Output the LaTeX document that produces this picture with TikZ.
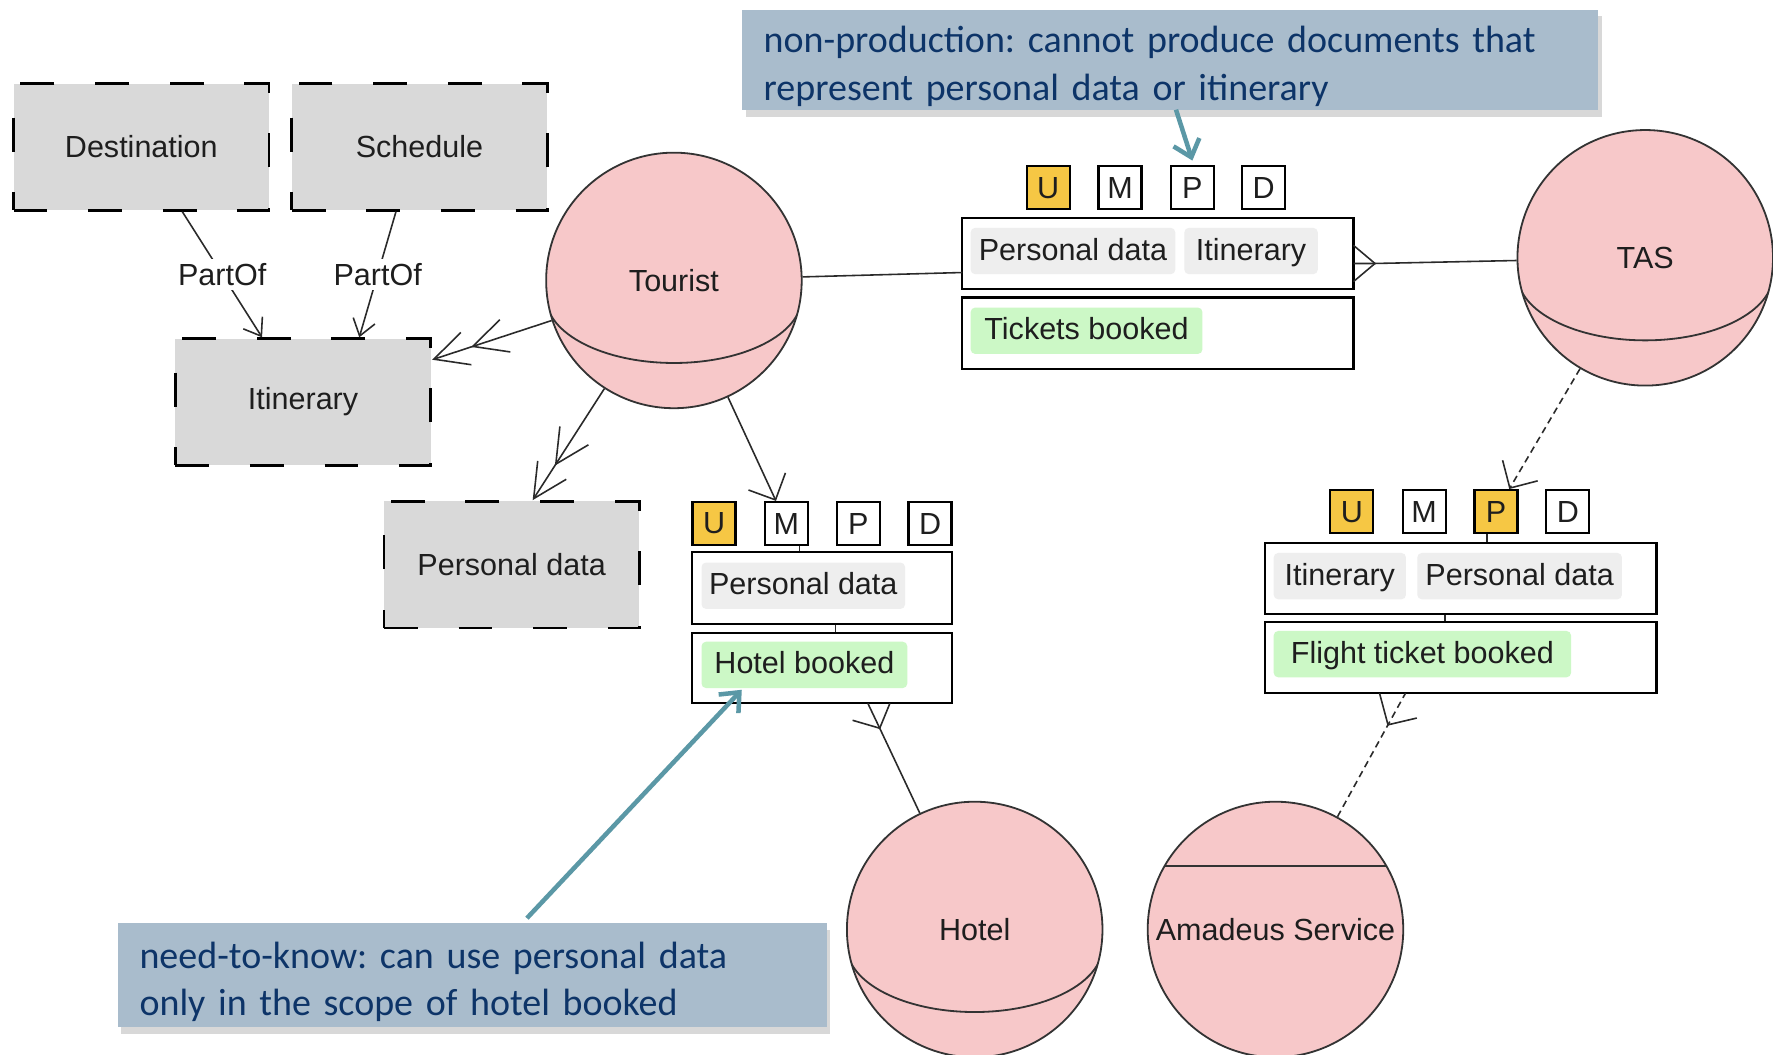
\documentclass[tikz,border=0pt]{standalone}
\usepackage{fontspec}
\setmainfont{Liberation Sans}
\newfontfamily\diafamily{Liberation Sans}
\newfontfamily\calfamily{Carlito}
\newcommand\mydiafont{\diafamily\fontsize{13.5}{16}\selectfont}
\newcommand\mynotefont{\calfamily\fontsize{16.8}{21}\selectfont\frenchspacing\spaceskip=0.17em plus 0.05em\relax}
\newcommand\notestrut{\rule{0pt}{17.5pt}}
\usetikzlibrary{arrows.meta,shadows,calc}
\definecolor{pinkfill}{HTML}{F7C8C9}
\definecolor{boxgray}{HTML}{D9D9D9}
\definecolor{chipgray}{HTML}{EEEEEE}
\definecolor{chipgreen}{HTML}{CCF8C6}
\definecolor{uorange}{HTML}{F6C744}
\definecolor{notefill}{HTML}{A9BCCC}
\definecolor{notetext}{HTML}{0D3468}
\definecolor{arrowteal}{HTML}{5B98A6}
\definecolor{circline}{HTML}{333333}
\definecolor{linegray}{HTML}{2A2A2A}
\definecolor{txt}{HTML}{1E1E1E}
\newcommand\spherearc[1]{%
  \begin{scope}
    \clip (#1.center) circle[radius=56.5pt];
    \clip ($(#1.center)+(-130,15)$) rectangle ++(260,130);
    \draw[circline,line width=0.8pt] ($(#1.center)+(0,15)$) ellipse[x radius=113,y radius=58];
  \end{scope}}
\begin{document}
\begin{tikzpicture}[x=0.5pt,y=-0.5pt,
  dbox/.style={draw=black, line width=1.2pt, dash pattern=on 15pt off 18pt, fill=boxgray,
    minimum width=113pt, minimum height=56pt, inner sep=0pt, font=\mydiafont, text=txt},
  sphere/.style={circle, draw=circline, line width=0.8pt, fill=pinkfill, minimum size=113pt,
    inner sep=0pt, font=\mydiafont, text=txt},
  flag/.style={draw=black, line width=1pt, fill=white, minimum size=19pt, inner sep=0pt,
    font=\mydiafont, text=txt},
  flagon/.style={flag, fill=uorange},
  cbox/.style={draw=black, line width=1pt, fill=white, minimum width=173pt,
    minimum height=31.5pt, inner sep=0pt},
  chip/.style={fill=chipgray, rounded corners=2pt, minimum height=20.5pt, inner sep=0pt,
    text height=10pt, text depth=2pt, anchor=west, font=\mydiafont, text=txt},
  gchip/.style={chip, fill=chipgreen},
  conn/.style={draw=linegray, line width=0.7pt},
  dconn/.style={conn, dash pattern=on 3pt off 2pt},
  openone/.style={-{Straight Barb[length=9pt,width=18pt]}},
  opentwo/.style={-{Straight Barb[length=15pt,width=15pt,sep=2pt] Straight Barb[length=15pt,width=15pt]}},
  partof/.style={-{Straight Barb[length=7pt,width=10pt]}},
  plabel/.style={fill=white, inner sep=2pt, font=\mydiafont, text=txt},
  note/.style={fill=notefill, drop shadow={shadow xshift=1.5pt, shadow yshift=-3pt, opacity=0.3},
    anchor=north west, inner xsep=9.5pt, inner ysep=0pt, align=left, font=\mynotefont, text=notetext},
  callout/.style={draw=arrowteal, line width=2pt, -{Straight Barb[length=7pt,width=12pt]}},
]
\useasboundingbox (0,0) rectangle (1568,933);
\fill[white] (0,0) rectangle (1568,933);

% gray dashed boxes
\node[dbox] (dest) at (125,130) {Destination};
\node[dbox] (sched) at (371,130) {Schedule};
\node[dbox] (itin) at (268,355.5) {Itinerary};
\node[dbox] (pdata) at (452.5,499.5) {Personal data};

% spheres
\node[sphere] (tourist) at (596,248) {Tourist};
\spherearc{tourist}
\node[sphere] (tas) at (1455,228) {TAS};
\spherearc{tas}
\node[sphere] (hotel) at (862,822) {Hotel};
\spherearc{hotel}
\node[sphere] (amadeus) at (1128,822) {Amadeus Service};
\draw[circline,line width=0.8pt] ($(amadeus.center)+(-98,-56)$) -- ($(amadeus.center)+(98,-56)$);

% top component
\node[flagon] (tU) at (927,166) {U};
\node[flag] (tM) at (990.5,166) {M};
\node[flag] (tP) at (1054.5,166) {P};
\node[flag] (tD) at (1117.5,166) {D};
\node[cbox] (tA) at (1024,224) {};
\node[cbox] (tB) at (1024,294.5) {};
\node[chip, minimum width=90.5pt] (tc1) at (858,222) {Personal data};
\node[chip, minimum width=59pt] (tc2) at (1047,222) {Itinerary};
\node[gchip, minimum width=102.5pt] (tc3) at (858,292.5) {Tickets booked};

% hotel component
\node[flagon] (hU) at (631.5,463) {U};
\node[flag] (hM) at (695.5,463) {M};
\node[flag] (hP) at (759,463) {P};
\node[flag] (hD) at (822.5,463) {D};
\node[cbox, minimum width=115pt, minimum height=32pt] (hA) at (727,520) {};
\node[cbox, minimum width=115pt, minimum height=31pt] (hB) at (727,591) {};
\node[chip, minimum width=90pt] (hc1) at (620,518) {Personal data};
\node[gchip, minimum width=91pt] (hc2) at (620,588) {Hotel booked};

% flight component
\node[flagon] (fU) at (1195.5,452.5) {U};
\node[flag] (fM) at (1259.5,452.5) {M};
\node[flagon] (fP) at (1323,452.5) {P};
\node[flag] (fD) at (1386.5,452.5) {D};
\node[cbox] (fA) at (1292,511.5) {};
\node[cbox] (fB) at (1292,581.5) {};
\node[chip, minimum width=58.5pt] (fc1) at (1126,509.5) {Itinerary};
\node[chip, minimum width=90.5pt] (fc2) at (1253,509.5) {Personal data};
\node[gchip, minimum width=131.5pt] (fc3) at (1126,578.5) {Flight ticket booked};

% small ticks inside components
\draw[conn] ([xshift=5.75pt]hM.south) -- ([xshift=5.75pt]hM.south |- hA.north);
\draw[conn] ([xshift=6pt]hA.south) -- ([xshift=6pt]hA.south |- hB.north);
\draw[conn] ([xshift=-4pt]fP.south) -- ([xshift=-4pt]fP.south |- fA.north);
\draw[conn] ([xshift=-7pt]fA.south) -- ([xshift=-7pt]fA.south |- fB.north);

% PartOf connectors
\draw[conn, partof] (dest) -- node[plabel]{PartOf} (itin);
\draw[conn, partof] (sched.250) -- node[plabel]{PartOf} (itin.49);

% tourist connectors
\draw[conn, opentwo] (tourist) -- (itin);
\draw[conn, opentwo] (tourist) -- (pdata.72);
\draw[conn, openone] (tourist) -- (hM);
\coordinate (tAin) at (851,241);
\draw[conn] (tourist) -- (tAin);

% TAS crow's foot
\coordinate (tasapex) at (1216,233);
\coordinate (tasf1) at (1197,217);
\coordinate (tasf2) at (1197,249);
\coordinate (tasf3) at (1197,233);
\draw[conn] (tas) -- (tasapex) -- (tasf3);
\draw[conn] (tasf1) -- (tasapex) -- (tasf2);
\draw[dconn, openone] (tas) -- (fP);

% Hotel crow's foot
\coordinate (hapex) at (778,644);
\coordinate (hf1) at (767.5,622);
\coordinate (hf2) at (787,622);
\coordinate (hbarb) at (754,637);
\draw[conn] (hotel) -- (hapex) -- (hf1);
\draw[conn] (hf2) -- (hapex) -- (hbarb);

% Amadeus crow's foot
\coordinate (aapex) at (1227.5,641);
\coordinate (af1) at (1243,613);
\coordinate (af2) at (1220,613);
\coordinate (abarb) at (1253,635);
\draw[dconn] (amadeus) -- (aapex) -- (af1);
\draw[conn] (af2) -- (aapex) -- (abarb);

% callouts
\node[note, minimum width=378.5pt, minimum height=44.5pt, text width=359.5pt] (note1) at (656,8)
  {\notestrut non-production: cannot produce documents that\\represent personal data or itinerary};
\node[note, minimum width=313.5pt, minimum height=46pt, text width=294.5pt] (note2) at (104,816)
  {\notestrut need-to-know: can use personal data\\only in the scope of hotel booked};
\coordinate (n1a) at (1040,97);
\draw[callout] (n1a) -- ([yshift=2pt]tP.north);
\coordinate (n2a) at (466,812);
\coordinate (n2b) at (656,610);
\draw[callout] (n2a) -- (n2b);
\end{tikzpicture}
\end{document}
